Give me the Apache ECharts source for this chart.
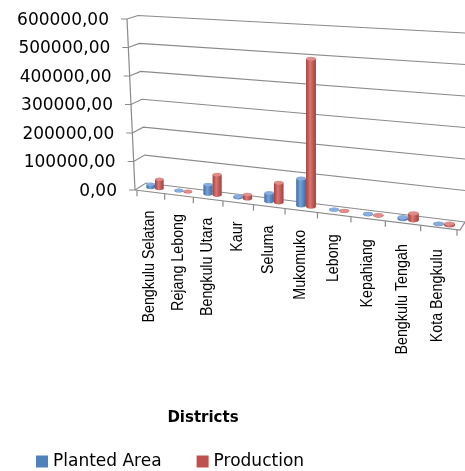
<!DOCTYPE html>
<html>
<head>
<meta charset="utf-8">
<script src="https://cdn.jsdelivr.net/npm/echarts@6/dist/echarts.min.js"></script>
<style>
  html, body { margin: 0; padding: 0; background: #fff; }
  #chart { width: 465px; height: 471px; }
</style>
</head>
<body>
<div id="chart"></div>
<script>
// Oil palm by district: planted area and production
const districts = ['Bengkulu Selatan', 'Rejang Lebong', 'Bengkulu Utara', 'Kaur', 'Seluma',
                   'Mukomuko', 'Lebong', 'Kepahiang', 'Bengkulu Tengah', 'Kota Bengkulu'];
const plantedArea = [11000, 1500, 32000, 5000, 28000, 89000, 1200, 1500, 6000, 1500];
const production  = [32000, 1200, 70000, 14000, 66000, 487000, 1000, 1300, 22500, 5500];
const yTicks = [0, 100000, 200000, 300000, 400000, 500000, 600000];
const yTickLabels = yTicks.map(v => v.toFixed(2).replace('.', ','));

const FONT = '"DejaVu Sans", sans-serif';
const VALUE_FONT = '17px "DejaVu Sans", sans-serif';
const CAT_FONT = '17px "Liberation Sans", sans-serif';
const LINE = '#8a8a8a';

// --- pseudo-3D projection of the plot area (perspective-like skew) ---
function proj(rect) {
  const L = rect.x, T = rect.y, W = rect.width, H = rect.height, B = T + H;
  return {
    L, T, W, H, B,
    xs: u => L + W * (0.85 * u + 0.15 * u * u),        // horizontal foreshortening
    floorY: u => B - 4 + 29.2 * u + 11.4 * u * u,        // floor line under the bars
    k: u => 1 + 0.12 * u,                                // vertical scale growth to the right
    frontBot: [L - 2, B], frontTop: [L - 10, T],
    backLB: [L + 9, B - 7], backLT: [L + 1, T - 3.5],
    backRB: [L + W + 8, B + 32], backRT: [L + W + 8, T + 14],
    floorFR: [L + W + 3, B + 40]
  };
}
const lerp = (a, b, t) => [a[0] + (b[0] - a[0]) * t, a[1] + (b[1] - a[1]) * t];

// walls, gridlines, value labels, floor and category ticks
function renderFrame(params, api) {
  const P = proj(params.coordSys);
  const v = api.value(1);
  const yc = api.coord([0, v])[1];
  const s = (P.B - yc) / P.H;
  const f = lerp(P.frontBot, P.frontTop, s);
  const bl = lerp(P.backLB, P.backLT, s);
  const br = lerp(P.backRB, P.backRT, s);
  const style = { stroke: LINE, lineWidth: 1.2, fill: null };
  const children = [
    { type: 'polyline', shape: { points: [[f[0] - 6, f[1]], f, bl, br] }, style },
    {
      type: 'text', x: f[0] - 18, y: f[1] + 1.5,
      style: { text: yTickLabels[params.dataIndex], font: VALUE_FONT, fill: '#000', align: 'right', verticalAlign: 'middle' }
    }
  ];
  if (params.dataIndex === 0) {
    children.push({ type: 'line', shape: { x1: P.frontBot[0], y1: P.frontBot[1], x2: P.frontTop[0], y2: P.frontTop[1] }, style });
    children.push({ type: 'polyline', shape: { points: [P.frontBot, P.floorFR, P.backRB] }, style });
    const n = districts.length;
    for (let j = 0; j <= n; j++) {
      const x = P.xs(j / n);
      const t = (x - P.frontBot[0]) / (P.floorFR[0] - P.frontBot[0]);
      const y = P.frontBot[1] + (P.floorFR[1] - P.frontBot[1]) * t;
      children.push({ type: 'line', shape: { x1: x, y1: y, x2: x, y2: y + 6 }, style });
    }
  }
  return { type: 'group', children };
}

// cylinder columns
function cylinderRenderer(slot, dark, light, cap) {
  return function (params, api) {
    const P = proj(params.coordSys);
    const i = api.value(0), v = api.value(1);
    const c0 = api.coord([i, 0]), c1 = api.coord([i, v]);
    const u = (c0[0] - P.L) / P.W;
    const w = 8.5 + 2.5 * u;
    const cx = P.xs(u) + slot * w;
    const base = P.floorY(u) + slot * w * 0.12;
    const top = base - (c0[1] - c1[1]) * P.k(u);
    const ry = w * 0.2;
    const grad = new echarts.graphic.LinearGradient(0, 0, 1, 0, [
      { offset: 0, color: dark }, { offset: 0.4, color: light }, { offset: 1, color: dark }
    ]);
    return {
      type: 'group',
      children: [
        { type: 'ellipse', shape: { cx, cy: base, rx: w / 2, ry }, style: { fill: grad } },
        { type: 'rect', shape: { x: cx - w / 2, y: top, width: w, height: base - top }, style: { fill: grad } },
        { type: 'ellipse', shape: { cx, cy: top, rx: w / 2, ry }, style: { fill: cap } }
      ]
    };
  };
}

// rotated district names along the front edge (condensed along the reading direction)
function renderLabel(params, api) {
  const P = proj(params.coordSys);
  const i = api.value(0);
  const u = (api.coord([i, 0])[0] - P.L) / P.W;
  return {
    type: 'text',
    x: P.xs(u) - 1,
    y: P.floorY(u) + 23 + 2.5 * u,
    rotation: Math.PI / 2,
    scaleX: 0.84,
    style: { text: districts[i], font: CAT_FONT, fill: '#000', align: 'right', verticalAlign: 'middle' }
  };
}

const chart = echarts.init(document.getElementById('chart'));
chart.setOption({
  animation: false,
  backgroundColor: '#fff',
  grid: { left: 137, right: 8, top: 19, bottom: 281 },
  title: {
    text: 'Districts', left: 198, top: 406, textAlign: 'center',
    textStyle: { fontFamily: FONT, fontWeight: 'bold', fontSize: 15, color: '#000' }
  },
  legend: {
    left: 36, top: 453, padding: 0, itemWidth: 12, itemHeight: 12, itemGap: 35, icon: 'rect',
    data: ['Planted Area', 'Production'],
    textStyle: { fontFamily: FONT, fontSize: 17, color: '#000' }
  },
  xAxis: { type: 'category', data: districts, show: false },
  yAxis: {
    type: 'value', min: 0, max: 600000, interval: 100000,
    axisLine: { show: false }, axisTick: { show: false }, splitLine: { show: false },
    axisLabel: { show: false }
  },
  series: [
    {
      type: 'custom', name: 'frame', silent: true, clip: false, z: 1,
      renderItem: renderFrame,
      data: yTicks.map(v => [0, v])
    },
    {
      type: 'custom', name: 'Planted Area', clip: false, z: 3,
      itemStyle: { color: '#4F81BD' },
      renderItem: cylinderRenderer(0, '#3F6BA3', '#76A2DA', '#86ADDD'),
      data: plantedArea.map((v, i) => [i, v])
    },
    {
      type: 'custom', name: 'Production', clip: false, z: 3,
      itemStyle: { color: '#C0504D' },
      renderItem: cylinderRenderer(1, '#A23F3C', '#DB7672', '#E08D8A'),
      data: production.map((v, i) => [i, v])
    },
    {
      type: 'custom', name: 'labels', silent: true, clip: false, z: 2,
      renderItem: renderLabel,
      data: districts.map((d, i) => [i, 0])
    }
  ]
});
</script>
</body>
</html>
